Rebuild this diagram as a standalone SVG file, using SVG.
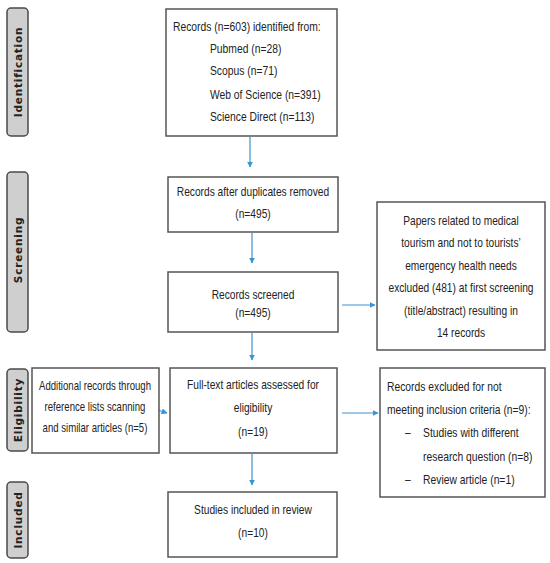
<svg xmlns="http://www.w3.org/2000/svg" width="550" height="563" viewBox="0 0 550 563">
<style>
  .box { fill: #ffffff; stroke: #555555; stroke-width: 1.5; }
  .side { fill: #cfcfcf; stroke: #4a4a4a; stroke-width: 1.5; }
  .t { font-family: "Liberation Sans", Arial, sans-serif; font-size: 12px; fill: #222222; }
  .c { text-anchor: middle; }
  .st { font-family: "DejaVu Sans", "Liberation Sans", sans-serif; font-size: 10.5px; font-weight: bold; fill: #222222; text-anchor: middle; letter-spacing: 0.8px; }
  .conn { stroke: #3a94d4; stroke-width: 1.2; fill: none; marker-end: url(#ah); }
</style>
<defs>
  <marker id="ah" viewBox="0 0 10 10" refX="9" refY="5" markerWidth="6" markerHeight="6" markerUnits="userSpaceOnUse" orient="auto">
    <path d="M0,0 L10,5 L0,10 z" fill="#3a94d4"/>
  </marker>
</defs>
<rect width="550" height="563" fill="#ffffff"/>

<g id="label-identification">
  <rect class="side" x="7" y="8" width="21" height="128" rx="4"/>
  <text class="st" transform="translate(21.5,72) rotate(-90)">Identification</text>
</g>
<g id="label-screening">
  <rect class="side" x="7" y="172" width="21" height="160" rx="4"/>
  <text class="st" transform="translate(21.5,250) rotate(-90)" letter-spacing="0.3">Screening</text>
</g>
<g id="label-eligibility">
  <rect class="side" x="7" y="369" width="21" height="82" rx="4"/>
  <text class="st" transform="translate(21.5,410) rotate(-90)" letter-spacing="1.2">Eligibility</text>
</g>
<g id="label-included">
  <rect class="side" x="7" y="482" width="21" height="76" rx="4"/>
  <text class="st" transform="translate(21.5,520) rotate(-90)" letter-spacing="1.2">Included</text>
</g>

<g id="connectors">
  <line class="conn" x1="250" y1="137" x2="250" y2="167"/>
  <line class="conn" x1="252" y1="233" x2="252" y2="263"/>
  <line class="conn" x1="252" y1="333" x2="252" y2="360"/>
  <line class="conn" x1="252" y1="454" x2="252" y2="485"/>
  <line class="conn" x1="342" y1="305" x2="375" y2="305"/>
  <line class="conn" x1="342" y1="413" x2="378" y2="413"/>
  <line class="conn" x1="152" y1="408" x2="167" y2="413"/>
</g>

<g id="node-identified">
  <rect class="box" x="166" y="9" width="171" height="127"/>
  <g transform="matrix(0.86 0 0 1 24.22 0)">
    <text class="t" x="173" y="31">Records (n=603) identified from:</text>
    <text class="t" x="216" y="53">Pubmed (n=28)</text>
    <text class="t" x="216" y="75">Scopus (n=71)</text>
    <text class="t" x="216" y="99">Web of Science (n=391)</text>
    <text class="t" x="216" y="121">Science Direct (n=113)</text>
  </g>
</g>

<g id="node-duplicates">
  <rect class="box" x="168" y="177" width="170" height="55"/>
  <g transform="matrix(0.85 0 0 1 37.95 0)">
    <text class="t c" x="253" y="196">Records after duplicates removed</text>
    <text class="t c" x="253" y="218">(n=495)</text>
  </g>
</g>

<g id="node-screened">
  <rect class="box" x="168" y="272" width="170" height="60"/>
  <g transform="matrix(0.85 0 0 1 37.95 0)">
    <text class="t c" x="253" y="299">Records screened</text>
    <text class="t c" x="253" y="317">(n=495)</text>
  </g>
</g>

<g id="node-excluded-screening">
  <rect class="box" x="377" y="202" width="168" height="148"/>
  <g transform="matrix(0.85 0 0 1 69.15 0)">
    <text class="t c" x="461" y="225">Papers related to medical</text>
    <text class="t c" x="461" y="247">tourism and not to tourists’</text>
    <text class="t c" x="461" y="270">emergency health needs</text>
    <text class="t c" x="461" y="292">excluded (481) at first screening</text>
    <text class="t c" x="461" y="315">(title/abstract) resulting in</text>
    <text class="t c" x="461" y="337">14 records</text>
  </g>
</g>

<g id="node-additional">
  <rect class="box" x="32" y="368" width="127" height="85"/>
  <g transform="matrix(0.8 0 0 1 19 0)">
    <text class="t c" x="95" y="390">Additional records through</text>
    <text class="t c" x="95" y="411">reference lists scanning</text>
    <text class="t c" x="95" y="432">and similar articles (n=5)</text>
  </g>
</g>

<g id="node-fulltext">
  <rect class="box" x="170" y="368" width="167" height="85"/>
  <g transform="matrix(0.85 0 0 1 37.95 0)">
    <text class="t c" x="253" y="389">Full-text articles assessed for</text>
    <text class="t c" x="253" y="412">eligibility</text>
    <text class="t c" x="253" y="436">(n=19)</text>
  </g>
</g>

<g id="node-excluded-eligibility">
  <rect class="box" x="380" y="368" width="165" height="129"/>
  <g transform="matrix(0.86 0 0 1 54.18 0)">
    <text class="t" x="387" y="391">Records excluded for not</text>
    <text class="t" x="387" y="414">meeting inclusion criteria (n=9):</text>
    <text class="t" x="408" y="437">–</text>
    <text class="t" x="429" y="437">Studies with different</text>
    <text class="t" x="429" y="461">research question (n=8)</text>
    <text class="t" x="408" y="484">–</text>
    <text class="t" x="429" y="484">Review article (n=1)</text>
  </g>
</g>

<g id="node-included">
  <rect class="box" x="168" y="492" width="169" height="65"/>
  <g transform="matrix(0.85 0 0 1 37.95 0)">
    <text class="t c" x="253" y="514">Studies included in review</text>
    <text class="t c" x="253" y="537">(n=10)</text>
  </g>
</g>
</svg>
